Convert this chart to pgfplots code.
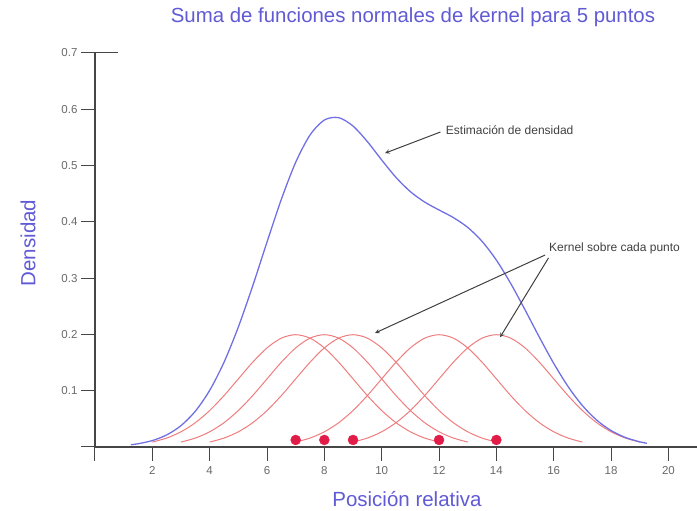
\documentclass[border=0pt]{standalone}
\usepackage{fontspec}
\setmainfont{Liberation Sans}
\usepackage{pgfplots}
\pgfplotsset{compat=1.18}
\definecolor{titleblue}{RGB}{96,90,212}
\definecolor{sumblue}{RGB}{112,112,228}
\definecolor{kred}{RGB}{238,125,125}
\definecolor{dotred}{RGB}{226,28,72}
\definecolor{axisgray}{RGB}{70,70,70}
\definecolor{labelgray}{RGB}{105,105,105}
\begin{document}
\begin{tikzpicture}
\path[use as bounding box] (-95pt,-64pt) rectangle (602pt,447pt);
\begin{axis}[
  x=28.67pt, y=563pt,
  xmin=0, xmax=21, ymin=0, ymax=0.7,
  axis x line=bottom, axis y line=left,
  axis line style={-, line width=1.1pt, draw=axisgray},
  tick align=outside, major tick length=14pt,
  tick style={line width=1pt, draw=axisgray},
  xtick={0,2,4,6,8,10,12,14,16,18,20},
  xticklabels={,2,4,6,8,10,12,14,16,18,20},
  ytick={0,0.1,0.2,0.3,0.4,0.5,0.6,0.7},
  yticklabels={,0.1,0.2,0.3,0.4,0.5,0.6,0.7},
  tick label style={font=\fontsize{11.5}{12}\selectfont, text=labelgray},
  xticklabel style={yshift=-2pt},
  /pgf/number format/assume math mode=true,
  clip=false,
]
% kernels
\addplot[kred, line width=1pt, smooth] coordinates {(2,0.00876) (2.5,0.01587) (3,0.02700) (3.5,0.04314) (4,0.06476) (4.5,0.09132) (5,0.12099) (5.5,0.15057) (6,0.17603) (6.5,0.19333) (7,0.19947) (7.5,0.19333) (8,0.17603) (8.5,0.15057) (9,0.12099) (9.5,0.09132) (10,0.06476) (10.5,0.04314) (11,0.02700) (11.5,0.01587) (12,0.00876)};
\addplot[kred, line width=1pt, smooth] coordinates {(3,0.00876) (3.5,0.01587) (4,0.02700) (4.5,0.04314) (5,0.06476) (5.5,0.09132) (6,0.12099) (6.5,0.15057) (7,0.17603) (7.5,0.19333) (8,0.19947) (8.5,0.19333) (9,0.17603) (9.5,0.15057) (10,0.12099) (10.5,0.09132) (11,0.06476) (11.5,0.04314) (12,0.02700) (12.5,0.01587) (13,0.00876)};
\addplot[kred, line width=1pt, smooth] coordinates {(4,0.00876) (4.5,0.01587) (5,0.02700) (5.5,0.04314) (6,0.06476) (6.5,0.09132) (7,0.12099) (7.5,0.15057) (8,0.17603) (8.5,0.19333) (9,0.19947) (9.5,0.19333) (10,0.17603) (10.5,0.15057) (11,0.12099) (11.5,0.09132) (12,0.06476) (12.5,0.04314) (13,0.02700) (13.5,0.01587) (14,0.00876)};
\addplot[kred, line width=1pt, smooth] coordinates {(7,0.00876) (7.5,0.01587) (8,0.02700) (8.5,0.04314) (9,0.06476) (9.5,0.09132) (10,0.12099) (10.5,0.15057) (11,0.17603) (11.5,0.19333) (12,0.19947) (12.5,0.19333) (13,0.17603) (13.5,0.15057) (14,0.12099) (14.5,0.09132) (15,0.06476) (15.5,0.04314) (16,0.02700) (16.5,0.01587) (17,0.00876)};
\addplot[kred, line width=1pt, smooth] coordinates {(9,0.00876) (9.5,0.01587) (10,0.02700) (10.5,0.04314) (11,0.06476) (11.5,0.09132) (12,0.12099) (12.5,0.15057) (13,0.17603) (13.5,0.19333) (14,0.19947) (14.5,0.19333) (15,0.17603) (15.5,0.15057) (16,0.12099) (16.5,0.09132) (17,0.06476) (17.5,0.04314) (18,0.02700) (18.5,0.01587) (19,0.00876)};
% sum
\addplot[sumblue, line width=1.3pt, smooth] coordinates {(1.25,0.00398) (1.5,0.00574) (2,0.01142) (2.5,0.02143) (3,0.03798) (3.5,0.06358) (4,0.10059) (4.5,0.15051) (5,0.21319) (5.5,0.28606) (6,0.36407) (6.5,0.43995) (7,0.50569) (7.5,0.55411) (8,0.58075) (8.5,0.58492) (9,0.57001) (9.5,0.54241) (10,0.50977) (10.5,0.47874) (11,0.45354) (11.5,0.43498) (12,0.42098) (12.5,0.40746) (13,0.39004) (13.5,0.36533) (14,0.33188) (14.5,0.29039) (15,0.24352) (15.5,0.19492) (16,0.14850) (16.5,0.10739) (17,0.07359) (17.5,0.04771) (18,0.02922) (18.5,0.01688) (19,0.00920) (19.25,0.00664)};
% points
\addplot[only marks, mark=*, mark size=5pt, dotred] coordinates {(7,0.0125) (8,0.0125) (9,0.0125) (12,0.0125) (14,0.0125)};
% top tick extension
\draw[axisgray, line width=1pt] (axis cs:0,0.7) -- (axis cs:0.8,0.7);
% annotations
\node[anchor=west, font=\fontsize{12}{13}\selectfont, text=black!75, inner sep=1pt] at (axis cs:12.2,0.5625) {Estimación de densidad};
\draw[-stealth, black!75, line width=1pt] (axis cs:12.05,0.5595) -- (axis cs:10.12,0.522);
\node[anchor=west, font=\fontsize{12}{13}\selectfont, text=black!75, inner sep=1pt] at (axis cs:15.8,0.352) {Kernel sobre cada punto};
\draw[-stealth, black!75, line width=1pt] (axis cs:15.7,0.341) -- (axis cs:9.77,0.2025);
\draw[-stealth, black!75, line width=1pt] (axis cs:15.82,0.336) -- (axis cs:14.13,0.195);
\end{axis}
\node[text=titleblue, font=\fontsize{20.4}{24}\selectfont] at (318pt,430pt) {Suma de funciones normales de kernel para 5 puntos};
\node[text=titleblue, font=\fontsize{20.5}{24}\selectfont, rotate=90] at (-67pt,204pt) {Densidad};
\node[text=titleblue, font=\fontsize{20.5}{24}\selectfont] at (312pt,-52pt) {Posición relativa};
\end{tikzpicture}
\end{document}
